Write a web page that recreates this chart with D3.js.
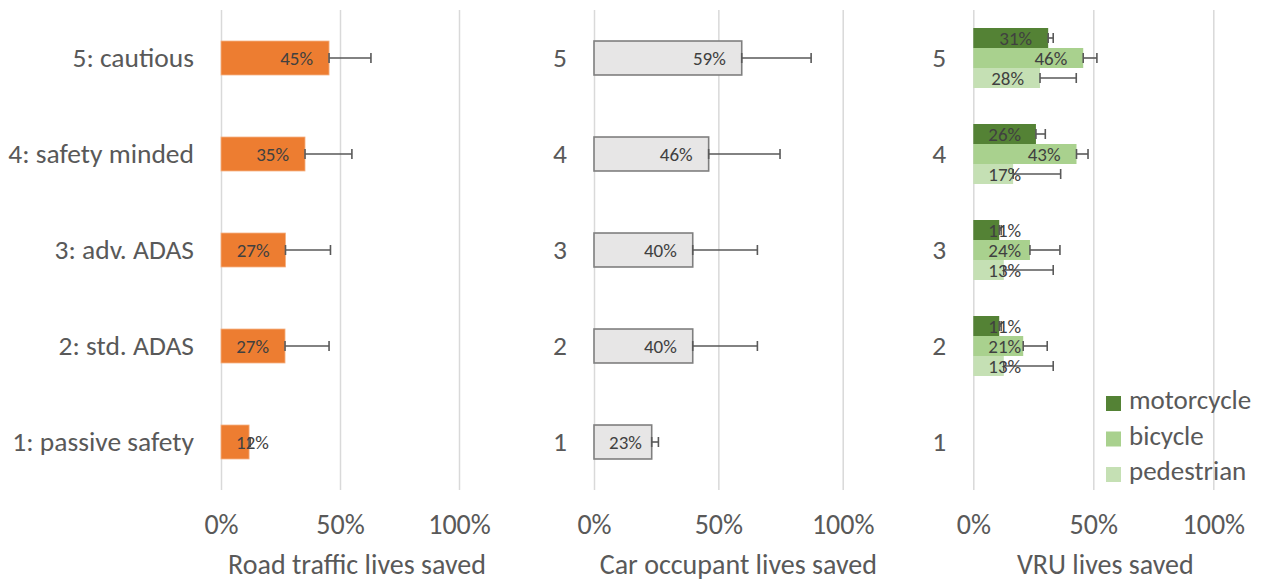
<!DOCTYPE html>
<html lang="en">
<head>
  <meta charset="UTF-8">
  <title>lives saved</title>
  <script src="https://d3js.org/d3.v7.min.js"></script>
  <style>
    body { margin: 0; background: #fff; }
    svg text { font-family: Carlito, Lato, "Open Sans", sans-serif; }
  </style>
</head>
<body>
  <div class="canvas"></div>
  <script>
    // categories, bottom to top
    const categories = ['1: passive safety', '2: std. ADAS', '3: adv. ADAS', '4: safety minded', '5: cautious'];
    const shortCategories = ['1', '2', '3', '4', '5'];
    const xTicks = [0, 0.5, 1];

    const roadValues = [0.118, 0.269, 0.271, 0.353, 0.454];
    const roadErrors = [0.005, 0.185, 0.189, 0.197, 0.176];

    const carValues = [0.232, 0.397, 0.397, 0.461, 0.594];
    const carErrors = [0.027, 0.26, 0.26, 0.287, 0.279];

    const vruSeries = ['motorcycle', 'bicycle', 'pedestrian'];
    const motorcycleValues = [null, 0.108, 0.108, 0.261, 0.312];
    const motorcycleErrors = [null, 0.008, 0.008, 0.039, 0.021];
    const bicycleValues = [null, 0.208, 0.236, 0.43, 0.458];
    const bicycleErrors = [null, 0.1, 0.125, 0.048, 0.057];
    const pedestrianValues = [null, 0.127, 0.127, 0.166, 0.278];
    const pedestrianErrors = [null, 0.206, 0.206, 0.198, 0.151];

    const titles = ['Road traffic lives saved', 'Car occupant lives saved', 'VRU lives saved'];

    const width = 1263;
    const height = 580;
    const [plotTop, plotBottom] = [10, 490];
    const gray = '#595959';
    const pct = d3.format('.0%');

    const svg = d3.select('.canvas')
                  .append('svg')
                  .attr('width', width)
                  .attr('height', height);

    // one y scale shared by the three panels
    const y = d3.scaleBand()
                .domain(d3.range(categories.length).reverse())
                .range([plotTop, plotBottom])
                .padding(0);

    const panels = [
      { x0: 221, x1: 459, cats: categories, titleShift: 17 },
      { x0: 594, x1: 842.7, cats: shortCategories, titleShift: 20 },
      { x0: 973.3, x1: 1213.3, cats: shortCategories, titleShift: 12 }
    ];

    panels.forEach((p, i) => {
      p.x = d3.scaleLinear().domain([0, 1]).range([p.x0, p.x1]);
      const g = svg.append('g');
      p.g = g;

      // grid + tick labels
      const xAxisG = g.append('g')
        .attr('transform', `translate(0, ${plotBottom})`)
        .call(d3.axisBottom(p.x).tickValues(xTicks).tickFormat(d3.format('.0%'))
                .tickSize(-(plotBottom - plotTop)));
      xAxisG.select('.domain').remove();
      xAxisG.selectAll('line').attr('stroke', '#d9d9d9').attr('stroke-width', 1.5);
      xAxisG.selectAll('text')
        .attr('y', 34)
        .attr('dy', '0.35em')
        .attr('fill', gray)
        .style('font-size', '28px');

      // category labels
      const yAxisG = g.append('g')
        .attr('transform', `translate(${p.x0}, 0)`)
        .call(d3.axisLeft(y).tickSize(0).tickPadding(27).tickFormat(d => p.cats[d]));
      yAxisG.select('.domain').remove();
      yAxisG.selectAll('text').attr('fill', gray).style('font-size', '27.5px');

      // title
      g.append('text')
        .attr('x', p.x(0.5) + p.titleShift)
        .attr('y', 564)
        .attr('text-anchor', 'middle')
        .attr('dy', '0.35em')
        .attr('fill', gray)
        .style('font-size', '28px')
        .text(titles[i]);
    });

    // bars + error bars + labels
    function drawBars(p, rows, style) {
      const g = p.g.append('g');
      rows.forEach(r => {
        if (r.v == null) return;
        g.append('rect')
          .attr('x', p.x(0))
          .attr('y', r.y)
          .attr('width', p.x(r.v) - p.x(0))
          .attr('height', r.h)
          .attr('fill', r.fill)
          .attr('stroke', style.stroke)
          .attr('stroke-width', style.strokeWidth);
      });
      rows.forEach(r => {
        if (r.v == null) return;
        const cy = r.y + r.h / 2;
        const xa = p.x(r.v), xb = p.x(r.v + r.e);
        g.append('line').attr('x1', xa).attr('x2', xb).attr('y1', cy).attr('y2', cy)
          .attr('stroke', gray).attr('stroke-width', 1.6);
        [xa, xb].forEach(xx => {
          g.append('line').attr('x1', xx).attr('x2', xx).attr('y1', cy - 5).attr('y2', cy + 5)
            .attr('stroke', gray).attr('stroke-width', 1.6);
        });
      });
      rows.forEach(r => {
        if (r.v == null) return;
        const t = g.append('text')
          .attr('y', r.y + r.h / 2)
          .attr('dy', '0.35em')
          .attr('fill', '#404040')
          .style('font-size', '19px')
          .text(pct(r.v));
        const w = t.node().getComputedTextLength();
        t.attr('x', Math.max(p.x(r.v) - 16 - w, p.x(0) + 15));
      });
    }

    const barH = y.bandwidth() * 0.354;

    drawBars(panels[0], roadValues.map((v, i) => ({
      v, e: roadErrors[i], fill: '#ed7d31',
      y: y(i) + (y.bandwidth() - barH) / 2, h: barH
    })), { stroke: '#f4b183', strokeWidth: 0.8 });

    drawBars(panels[1], carValues.map((v, i) => ({
      v, e: carErrors[i], fill: '#e7e6e6',
      y: y(i) + (y.bandwidth() - barH) / 2, h: barH
    })), { stroke: '#7f7f7f', strokeWidth: 1.6 });

    // grouped bars for VRU
    const vruColor = d3.scaleOrdinal().domain(vruSeries).range(['#548235', '#a9d18e', '#c5e0b4']);
    const groupH = y.bandwidth() * 0.625;
    const ySub = d3.scaleBand().domain(vruSeries).range([0, groupH]).padding(0);
    const vruValues = { motorcycle: motorcycleValues, bicycle: bicycleValues, pedestrian: pedestrianValues };
    const vruErrors = { motorcycle: motorcycleErrors, bicycle: bicycleErrors, pedestrian: pedestrianErrors };
    const vruRows = [];
    categories.forEach((c, i) => {
      vruSeries.forEach(s => {
        vruRows.push({
          v: vruValues[s][i], e: vruErrors[s][i], fill: vruColor(s),
          y: y(i) + (y.bandwidth() - groupH) / 2 + ySub(s), h: ySub.bandwidth()
        });
      });
    });
    drawBars(panels[2], vruRows, { stroke: 'none', strokeWidth: 0 });

    // legend
    const legend = svg.append('g').attr('transform', 'translate(1106, 396)');
    vruSeries.forEach((s, i) => {
      const item = legend.append('g').attr('transform', `translate(0, ${i * 35.5})`);
      item.append('rect').attr('width', 15).attr('height', 15).attr('fill', vruColor(s));
      item.append('text')
        .attr('x', 23)
        .attr('y', 4)
        .attr('dy', '0.35em')
        .attr('fill', gray)
        .style('font-size', '27px')
        .text(s);
    });
  </script>
</body>
</html>
